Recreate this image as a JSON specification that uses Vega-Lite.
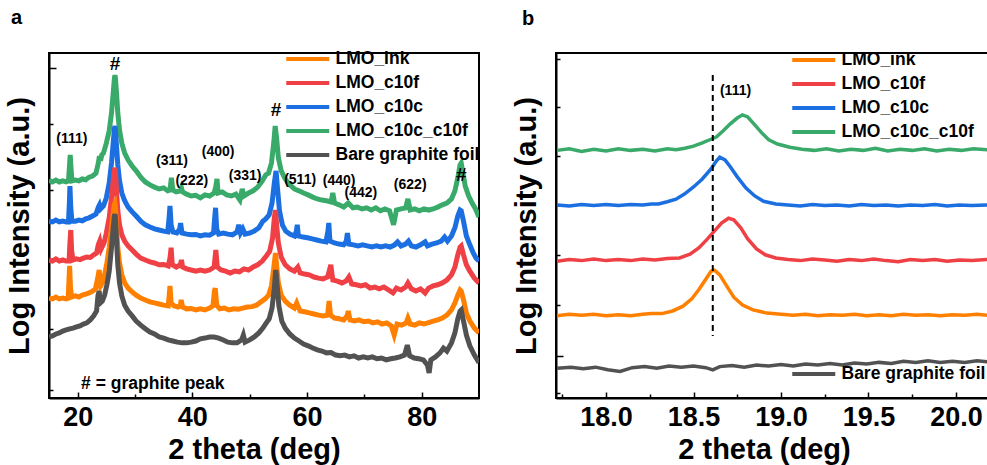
{
"$schema":"https://vega.github.io/schema/vega-lite/v6.json",
"padding":{"left":4,"top":7,"right":0,"bottom":0},
"config":{
 "font":"Liberation Sans",
 "view":{"stroke":"black","strokeWidth":2},
 "axis":{"grid":false,"domainColor":"black","domainWidth":2,"tickColor":"black","tickWidth":1.5,"labelFont":"Liberation Sans","labelFontWeight":"bold","labelFontSize":27,"labelColor":"black","titleFont":"Liberation Sans","titleFontWeight":"bold","titleFontSize":29,"titleColor":"black"},
 "legend":{"title":null,"orient":"none","padding":0,"symbolType":"M-2,0H2","symbolSize":462,"symbolStrokeWidth":4,"labelFont":"Liberation Sans","labelFontWeight":"bold","labelFontSize":17.5,"labelColor":"black","labelOffset":14.75,"rowPadding":2},
 "title":{"font":"Liberation Sans","fontWeight":"bold","fontSize":20,"color":"black","anchor":"start","frame":"group","baseline":"alphabetic"}
},
"resolve":{"scale":{"color":"independent"},"legend":{"color":"independent"}},
"spacing":30,
"datasets":{
"a":[
{"s":"cc","x":15.0,"y":4.97},{"s":"cc","x":15.6,"y":4.92},{"s":"cc","x":16.2,"y":4.97},{"s":"cc","x":16.8,"y":4.92},{"s":"cc","x":17.4,"y":4.95},{"s":"cc","x":18.0,"y":4.92},{"s":"cc","x":18.4,"y":4.95},{"s":"cc","x":18.6,"y":5.43},{"s":"cc","x":18.7,"y":5.65},{"s":"cc","x":18.8,"y":5.38},{"s":"cc","x":19.0,"y":4.95},{"s":"cc","x":19.6,"y":4.97},{"s":"cc","x":20.2,"y":4.95},{"s":"cc","x":20.8,"y":5.0},{"s":"cc","x":21.4,"y":4.98},{"s":"cc","x":22.0,"y":5.05},{"s":"cc","x":22.6,"y":5.08},{"s":"cc","x":23.2,"y":5.16},{"s":"cc","x":23.6,"y":5.43},{"s":"cc","x":23.8,"y":5.62},{"s":"cc","x":24.0,"y":5.49},{"s":"cc","x":24.2,"y":5.65},{"s":"cc","x":24.5,"y":5.7},{"s":"cc","x":25.0,"y":5.97},{"s":"cc","x":25.5,"y":6.3},{"s":"cc","x":25.9,"y":6.78},{"s":"cc","x":26.2,"y":7.32},{"s":"cc","x":26.4,"y":7.7},{"s":"cc","x":26.5,"y":7.81},{"s":"cc","x":26.6,"y":7.7},{"s":"cc","x":26.8,"y":7.27},{"s":"cc","x":27.0,"y":6.78},{"s":"cc","x":27.3,"y":6.32},{"s":"cc","x":27.7,"y":5.97},{"s":"cc","x":28.2,"y":5.7},{"s":"cc","x":28.8,"y":5.51},{"s":"cc","x":29.5,"y":5.35},{"s":"cc","x":30.2,"y":5.22},{"s":"cc","x":31.0,"y":5.05},{"s":"cc","x":31.8,"y":4.92},{"s":"cc","x":32.6,"y":4.84},{"s":"cc","x":33.4,"y":4.78},{"s":"cc","x":34.2,"y":4.73},{"s":"cc","x":35.0,"y":4.76},{"s":"cc","x":35.7,"y":4.68},{"s":"cc","x":36.1,"y":4.7},{"s":"cc","x":36.35,"y":5.03},{"s":"cc","x":36.6,"y":4.7},{"s":"cc","x":37.2,"y":4.65},{"s":"cc","x":37.9,"y":4.68},{"s":"cc","x":38.1,"y":4.76},{"s":"cc","x":38.3,"y":4.65},{"s":"cc","x":39.0,"y":4.59},{"s":"cc","x":39.8,"y":4.54},{"s":"cc","x":40.6,"y":4.56},{"s":"cc","x":41.4,"y":4.49},{"s":"cc","x":42.2,"y":4.57},{"s":"cc","x":43.0,"y":4.54},{"s":"cc","x":43.8,"y":4.62},{"s":"cc","x":44.1,"y":4.8},{"s":"cc","x":44.3,"y":5.0},{"s":"cc","x":44.5,"y":4.62},{"s":"cc","x":45.2,"y":4.65},{"s":"cc","x":46.0,"y":4.57},{"s":"cc","x":46.8,"y":4.54},{"s":"cc","x":47.6,"y":4.59},{"s":"cc","x":48.3,"y":4.43},{"s":"cc","x":48.7,"y":4.73},{"s":"cc","x":49.0,"y":4.54},{"s":"cc","x":49.8,"y":4.62},{"s":"cc","x":50.6,"y":4.68},{"s":"cc","x":51.4,"y":4.78},{"s":"cc","x":52.2,"y":4.95},{"s":"cc","x":52.8,"y":5.11},{"s":"cc","x":53.3,"y":5.16},{"s":"cc","x":53.8,"y":5.43},{"s":"cc","x":54.2,"y":5.97},{"s":"cc","x":54.45,"y":6.43},{"s":"cc","x":54.7,"y":6.11},{"s":"cc","x":55.0,"y":5.57},{"s":"cc","x":55.5,"y":5.22},{"s":"cc","x":56.2,"y":5.0},{"s":"cc","x":57.0,"y":4.84},{"s":"cc","x":57.8,"y":4.73},{"s":"cc","x":58.6,"y":4.68},{"s":"cc","x":59.4,"y":4.62},{"s":"cc","x":60.2,"y":4.57},{"s":"cc","x":61.0,"y":4.51},{"s":"cc","x":61.8,"y":4.46},{"s":"cc","x":62.6,"y":4.43},{"s":"cc","x":63.4,"y":4.41},{"s":"cc","x":64.2,"y":4.38},{"s":"cc","x":64.5,"y":4.62},{"s":"cc","x":64.8,"y":4.35},{"s":"cc","x":65.6,"y":4.3},{"s":"cc","x":66.4,"y":4.24},{"s":"cc","x":67.2,"y":4.35},{"s":"cc","x":68.0,"y":4.22},{"s":"cc","x":68.8,"y":4.24},{"s":"cc","x":69.6,"y":4.19},{"s":"cc","x":70.4,"y":4.22},{"s":"cc","x":71.2,"y":4.16},{"s":"cc","x":72.0,"y":4.22},{"s":"cc","x":72.8,"y":4.14},{"s":"cc","x":73.6,"y":4.19},{"s":"cc","x":74.4,"y":4.14},{"s":"cc","x":75.1,"y":3.76},{"s":"cc","x":75.6,"y":4.16},{"s":"cc","x":76.4,"y":4.19},{"s":"cc","x":77.2,"y":4.22},{"s":"cc","x":77.6,"y":4.46},{"s":"cc","x":78.0,"y":4.16},{"s":"cc","x":78.8,"y":4.19},{"s":"cc","x":79.6,"y":4.14},{"s":"cc","x":80.4,"y":4.19},{"s":"cc","x":81.2,"y":4.16},{"s":"cc","x":82.0,"y":4.19},{"s":"cc","x":82.8,"y":4.24},{"s":"cc","x":83.6,"y":4.3},{"s":"cc","x":84.4,"y":4.35},{"s":"cc","x":85.2,"y":4.46},{"s":"cc","x":85.8,"y":4.68},{"s":"cc","x":86.3,"y":5.03},{"s":"cc","x":86.7,"y":5.38},{"s":"cc","x":86.9,"y":5.43},{"s":"cc","x":87.2,"y":5.16},{"s":"cc","x":87.6,"y":4.81},{"s":"cc","x":88.2,"y":4.54},{"s":"cc","x":88.8,"y":4.35},{"s":"cc","x":89.4,"y":4.19},{"s":"cc","x":90.0,"y":3.97},
{"s":"c10c","x":15.0,"y":3.86},{"s":"c10c","x":15.6,"y":3.84},{"s":"c10c","x":16.2,"y":3.89},{"s":"c10c","x":16.8,"y":3.84},{"s":"c10c","x":17.4,"y":3.86},{"s":"c10c","x":18.0,"y":3.84},{"s":"c10c","x":18.4,"y":3.84},{"s":"c10c","x":18.55,"y":4.35},{"s":"c10c","x":18.65,"y":4.81},{"s":"c10c","x":18.8,"y":4.22},{"s":"c10c","x":19.0,"y":3.86},{"s":"c10c","x":19.6,"y":3.86},{"s":"c10c","x":20.2,"y":3.89},{"s":"c10c","x":20.8,"y":3.87},{"s":"c10c","x":21.4,"y":3.92},{"s":"c10c","x":22.0,"y":3.95},{"s":"c10c","x":22.6,"y":4.0},{"s":"c10c","x":23.2,"y":4.05},{"s":"c10c","x":23.6,"y":4.24},{"s":"c10c","x":23.8,"y":4.3},{"s":"c10c","x":24.0,"y":4.19},{"s":"c10c","x":24.5,"y":4.27},{"s":"c10c","x":25.0,"y":4.49},{"s":"c10c","x":25.5,"y":4.89},{"s":"c10c","x":25.9,"y":5.43},{"s":"c10c","x":26.2,"y":5.97},{"s":"c10c","x":26.4,"y":6.35},{"s":"c10c","x":26.5,"y":6.43},{"s":"c10c","x":26.6,"y":6.3},{"s":"c10c","x":26.8,"y":5.84},{"s":"c10c","x":27.0,"y":5.38},{"s":"c10c","x":27.3,"y":4.95},{"s":"c10c","x":27.7,"y":4.62},{"s":"c10c","x":28.2,"y":4.41},{"s":"c10c","x":28.8,"y":4.24},{"s":"c10c","x":29.5,"y":4.11},{"s":"c10c","x":30.2,"y":4.0},{"s":"c10c","x":31.0,"y":3.86},{"s":"c10c","x":31.8,"y":3.76},{"s":"c10c","x":32.6,"y":3.7},{"s":"c10c","x":33.4,"y":3.65},{"s":"c10c","x":34.2,"y":3.62},{"s":"c10c","x":35.0,"y":3.59},{"s":"c10c","x":35.7,"y":3.57},{"s":"c10c","x":35.95,"y":3.95},{"s":"c10c","x":36.1,"y":4.27},{"s":"c10c","x":36.3,"y":3.76},{"s":"c10c","x":36.6,"y":3.57},{"s":"c10c","x":37.3,"y":3.54},{"s":"c10c","x":37.8,"y":3.65},{"s":"c10c","x":37.95,"y":3.81},{"s":"c10c","x":38.2,"y":3.54},{"s":"c10c","x":39.0,"y":3.51},{"s":"c10c","x":39.8,"y":3.49},{"s":"c10c","x":40.6,"y":3.5},{"s":"c10c","x":41.4,"y":3.46},{"s":"c10c","x":42.2,"y":3.49},{"s":"c10c","x":43.0,"y":3.48},{"s":"c10c","x":43.7,"y":3.54},{"s":"c10c","x":43.9,"y":3.95},{"s":"c10c","x":44.05,"y":4.22},{"s":"c10c","x":44.25,"y":3.65},{"s":"c10c","x":44.6,"y":3.51},{"s":"c10c","x":45.4,"y":3.54},{"s":"c10c","x":46.2,"y":3.51},{"s":"c10c","x":47.0,"y":3.49},{"s":"c10c","x":47.8,"y":3.57},{"s":"c10c","x":48.1,"y":3.76},{"s":"c10c","x":48.4,"y":3.54},{"s":"c10c","x":48.8,"y":3.65},{"s":"c10c","x":49.2,"y":3.51},{"s":"c10c","x":50.0,"y":3.54},{"s":"c10c","x":50.8,"y":3.59},{"s":"c10c","x":51.6,"y":3.68},{"s":"c10c","x":52.3,"y":3.86},{"s":"c10c","x":52.8,"y":3.92},{"s":"c10c","x":53.4,"y":4.03},{"s":"c10c","x":53.9,"y":4.35},{"s":"c10c","x":54.3,"y":4.89},{"s":"c10c","x":54.6,"y":5.22},{"s":"c10c","x":54.85,"y":4.76},{"s":"c10c","x":55.2,"y":4.14},{"s":"c10c","x":55.7,"y":3.76},{"s":"c10c","x":56.3,"y":3.59},{"s":"c10c","x":57.0,"y":3.51},{"s":"c10c","x":57.8,"y":3.46},{"s":"c10c","x":58.15,"y":3.59},{"s":"c10c","x":58.3,"y":3.76},{"s":"c10c","x":58.5,"y":3.46},{"s":"c10c","x":59.3,"y":3.43},{"s":"c10c","x":60.1,"y":3.41},{"s":"c10c","x":60.9,"y":3.38},{"s":"c10c","x":61.7,"y":3.35},{"s":"c10c","x":62.5,"y":3.32},{"s":"c10c","x":63.3,"y":3.3},{"s":"c10c","x":63.65,"y":3.59},{"s":"c10c","x":63.8,"y":3.81},{"s":"c10c","x":64.0,"y":3.32},{"s":"c10c","x":64.8,"y":3.27},{"s":"c10c","x":65.6,"y":3.24},{"s":"c10c","x":66.4,"y":3.22},{"s":"c10c","x":66.85,"y":3.32},{"s":"c10c","x":67.05,"y":3.54},{"s":"c10c","x":67.3,"y":3.24},{"s":"c10c","x":68.1,"y":3.22},{"s":"c10c","x":68.9,"y":3.19},{"s":"c10c","x":69.7,"y":3.22},{"s":"c10c","x":70.5,"y":3.19},{"s":"c10c","x":71.3,"y":3.16},{"s":"c10c","x":72.1,"y":3.19},{"s":"c10c","x":72.9,"y":3.16},{"s":"c10c","x":73.7,"y":3.19},{"s":"c10c","x":74.5,"y":3.16},{"s":"c10c","x":75.3,"y":3.22},{"s":"c10c","x":75.8,"y":3.3},{"s":"c10c","x":76.4,"y":3.19},{"s":"c10c","x":77.2,"y":3.24},{"s":"c10c","x":77.7,"y":3.32},{"s":"c10c","x":78.2,"y":3.19},{"s":"c10c","x":79.0,"y":3.16},{"s":"c10c","x":79.8,"y":3.22},{"s":"c10c","x":80.6,"y":3.3},{"s":"c10c","x":81.0,"y":3.19},{"s":"c10c","x":81.8,"y":3.24},{"s":"c10c","x":82.6,"y":3.27},{"s":"c10c","x":83.4,"y":3.32},{"s":"c10c","x":84.0,"y":3.43},{"s":"c10c","x":84.5,"y":3.32},{"s":"c10c","x":85.2,"y":3.46},{"s":"c10c","x":85.8,"y":3.68},{"s":"c10c","x":86.3,"y":4.0},{"s":"c10c","x":86.7,"y":4.16},{"s":"c10c","x":86.9,"y":4.14},{"s":"c10c","x":87.3,"y":3.86},{"s":"c10c","x":87.8,"y":3.46},{"s":"c10c","x":88.4,"y":3.22},{"s":"c10c","x":89.0,"y":3.0},{"s":"c10c","x":89.5,"y":2.86},{"s":"c10c","x":90.0,"y":2.78},
{"s":"c10f","x":15.0,"y":2.81},{"s":"c10f","x":15.6,"y":2.78},{"s":"c10f","x":16.2,"y":2.84},{"s":"c10f","x":16.8,"y":2.78},{"s":"c10f","x":17.4,"y":2.81},{"s":"c10f","x":18.0,"y":2.78},{"s":"c10f","x":18.5,"y":2.78},{"s":"c10f","x":18.65,"y":3.27},{"s":"c10f","x":18.8,"y":3.62},{"s":"c10f","x":18.95,"y":3.05},{"s":"c10f","x":19.2,"y":2.81},{"s":"c10f","x":19.8,"y":2.84},{"s":"c10f","x":20.4,"y":2.82},{"s":"c10f","x":21.0,"y":2.86},{"s":"c10f","x":21.6,"y":2.89},{"s":"c10f","x":22.2,"y":2.88},{"s":"c10f","x":22.8,"y":2.95},{"s":"c10f","x":23.3,"y":3.0},{"s":"c10f","x":23.6,"y":3.22},{"s":"c10f","x":23.85,"y":3.32},{"s":"c10f","x":24.1,"y":3.11},{"s":"c10f","x":24.6,"y":3.27},{"s":"c10f","x":25.0,"y":3.54},{"s":"c10f","x":25.5,"y":3.95},{"s":"c10f","x":25.9,"y":4.49},{"s":"c10f","x":26.2,"y":4.95},{"s":"c10f","x":26.4,"y":5.24},{"s":"c10f","x":26.5,"y":5.3},{"s":"c10f","x":26.6,"y":5.16},{"s":"c10f","x":26.8,"y":4.62},{"s":"c10f","x":27.0,"y":4.14},{"s":"c10f","x":27.3,"y":3.76},{"s":"c10f","x":27.7,"y":3.49},{"s":"c10f","x":28.2,"y":3.32},{"s":"c10f","x":28.8,"y":3.19},{"s":"c10f","x":29.5,"y":3.08},{"s":"c10f","x":30.2,"y":2.97},{"s":"c10f","x":31.0,"y":2.86},{"s":"c10f","x":31.8,"y":2.81},{"s":"c10f","x":32.6,"y":2.76},{"s":"c10f","x":33.4,"y":2.73},{"s":"c10f","x":34.2,"y":2.68},{"s":"c10f","x":35.0,"y":2.69},{"s":"c10f","x":35.8,"y":2.65},{"s":"c10f","x":36.1,"y":2.86},{"s":"c10f","x":36.3,"y":3.14},{"s":"c10f","x":36.5,"y":2.68},{"s":"c10f","x":37.2,"y":2.62},{"s":"c10f","x":37.9,"y":2.68},{"s":"c10f","x":38.1,"y":2.81},{"s":"c10f","x":38.3,"y":2.62},{"s":"c10f","x":39.0,"y":2.57},{"s":"c10f","x":39.8,"y":2.54},{"s":"c10f","x":40.6,"y":2.51},{"s":"c10f","x":41.4,"y":2.54},{"s":"c10f","x":42.2,"y":2.51},{"s":"c10f","x":43.0,"y":2.54},{"s":"c10f","x":43.8,"y":2.62},{"s":"c10f","x":44.1,"y":3.08},{"s":"c10f","x":44.35,"y":2.62},{"s":"c10f","x":45.0,"y":2.54},{"s":"c10f","x":45.8,"y":2.51},{"s":"c10f","x":46.6,"y":2.46},{"s":"c10f","x":47.4,"y":2.51},{"s":"c10f","x":48.2,"y":2.49},{"s":"c10f","x":49.0,"y":2.57},{"s":"c10f","x":49.8,"y":2.54},{"s":"c10f","x":50.6,"y":2.62},{"s":"c10f","x":51.4,"y":2.68},{"s":"c10f","x":52.2,"y":2.78},{"s":"c10f","x":52.9,"y":2.92},{"s":"c10f","x":53.5,"y":3.05},{"s":"c10f","x":54.0,"y":3.41},{"s":"c10f","x":54.3,"y":3.95},{"s":"c10f","x":54.5,"y":4.16},{"s":"c10f","x":54.7,"y":3.76},{"s":"c10f","x":55.0,"y":3.27},{"s":"c10f","x":55.5,"y":2.89},{"s":"c10f","x":56.2,"y":2.68},{"s":"c10f","x":57.0,"y":2.57},{"s":"c10f","x":57.8,"y":2.51},{"s":"c10f","x":58.4,"y":2.62},{"s":"c10f","x":58.8,"y":2.46},{"s":"c10f","x":59.6,"y":2.43},{"s":"c10f","x":60.4,"y":2.41},{"s":"c10f","x":61.2,"y":2.35},{"s":"c10f","x":62.0,"y":2.32},{"s":"c10f","x":62.8,"y":2.3},{"s":"c10f","x":63.6,"y":2.35},{"s":"c10f","x":64.15,"y":2.68},{"s":"c10f","x":64.5,"y":2.27},{"s":"c10f","x":65.3,"y":2.24},{"s":"c10f","x":66.1,"y":2.19},{"s":"c10f","x":66.8,"y":2.24},{"s":"c10f","x":67.3,"y":2.35},{"s":"c10f","x":67.8,"y":2.16},{"s":"c10f","x":68.6,"y":2.14},{"s":"c10f","x":69.4,"y":2.11},{"s":"c10f","x":70.2,"y":2.14},{"s":"c10f","x":71.0,"y":2.05},{"s":"c10f","x":71.8,"y":2.08},{"s":"c10f","x":72.6,"y":2.03},{"s":"c10f","x":73.4,"y":2.08},{"s":"c10f","x":74.2,"y":2.0},{"s":"c10f","x":75.0,"y":1.92},{"s":"c10f","x":75.6,"y":2.05},{"s":"c10f","x":76.4,"y":2.0},{"s":"c10f","x":77.2,"y":2.08},{"s":"c10f","x":77.6,"y":2.19},{"s":"c10f","x":78.2,"y":2.03},{"s":"c10f","x":79.0,"y":1.97},{"s":"c10f","x":79.8,"y":2.03},{"s":"c10f","x":80.6,"y":1.92},{"s":"c10f","x":81.2,"y":2.05},{"s":"c10f","x":82.0,"y":2.11},{"s":"c10f","x":82.8,"y":2.14},{"s":"c10f","x":83.6,"y":2.19},{"s":"c10f","x":84.4,"y":2.27},{"s":"c10f","x":85.2,"y":2.41},{"s":"c10f","x":85.8,"y":2.62},{"s":"c10f","x":86.3,"y":2.95},{"s":"c10f","x":86.7,"y":3.16},{"s":"c10f","x":86.9,"y":3.19},{"s":"c10f","x":87.3,"y":2.95},{"s":"c10f","x":87.8,"y":2.68},{"s":"c10f","x":88.4,"y":2.51},{"s":"c10f","x":89.2,"y":2.32},{"s":"c10f","x":90.0,"y":2.19},
{"s":"ink","x":15.0,"y":1.78},{"s":"ink","x":15.6,"y":1.76},{"s":"ink","x":16.2,"y":1.81},{"s":"ink","x":16.8,"y":1.76},{"s":"ink","x":17.4,"y":1.78},{"s":"ink","x":18.0,"y":1.76},{"s":"ink","x":18.35,"y":1.78},{"s":"ink","x":18.5,"y":2.32},{"s":"ink","x":18.6,"y":2.65},{"s":"ink","x":18.75,"y":2.05},{"s":"ink","x":18.95,"y":1.81},{"s":"ink","x":19.6,"y":1.84},{"s":"ink","x":20.2,"y":1.81},{"s":"ink","x":20.8,"y":1.86},{"s":"ink","x":21.4,"y":1.89},{"s":"ink","x":22.0,"y":1.92},{"s":"ink","x":22.6,"y":1.97},{"s":"ink","x":23.1,"y":2.03},{"s":"ink","x":23.5,"y":2.32},{"s":"ink","x":23.75,"y":2.54},{"s":"ink","x":24.0,"y":2.11},{"s":"ink","x":24.3,"y":2.19},{"s":"ink","x":24.7,"y":2.41},{"s":"ink","x":25.1,"y":2.73},{"s":"ink","x":25.5,"y":3.14},{"s":"ink","x":25.9,"y":3.68},{"s":"ink","x":26.2,"y":4.08},{"s":"ink","x":26.4,"y":4.32},{"s":"ink","x":26.5,"y":4.35},{"s":"ink","x":26.6,"y":4.22},{"s":"ink","x":26.8,"y":3.68},{"s":"ink","x":27.0,"y":3.14},{"s":"ink","x":27.3,"y":2.73},{"s":"ink","x":27.7,"y":2.41},{"s":"ink","x":28.2,"y":2.19},{"s":"ink","x":28.8,"y":2.05},{"s":"ink","x":29.5,"y":1.95},{"s":"ink","x":30.2,"y":1.86},{"s":"ink","x":31.0,"y":1.78},{"s":"ink","x":31.8,"y":1.73},{"s":"ink","x":32.6,"y":1.68},{"s":"ink","x":33.4,"y":1.65},{"s":"ink","x":34.2,"y":1.62},{"s":"ink","x":35.0,"y":1.59},{"s":"ink","x":35.8,"y":1.57},{"s":"ink","x":36.0,"y":1.92},{"s":"ink","x":36.1,"y":2.11},{"s":"ink","x":36.3,"y":1.65},{"s":"ink","x":36.8,"y":1.57},{"s":"ink","x":37.5,"y":1.54},{"s":"ink","x":37.9,"y":1.57},{"s":"ink","x":38.05,"y":1.73},{"s":"ink","x":38.3,"y":1.54},{"s":"ink","x":39.0,"y":1.49},{"s":"ink","x":39.8,"y":1.5},{"s":"ink","x":40.6,"y":1.46},{"s":"ink","x":41.4,"y":1.49},{"s":"ink","x":42.2,"y":1.46},{"s":"ink","x":43.0,"y":1.51},{"s":"ink","x":43.6,"y":1.57},{"s":"ink","x":43.85,"y":1.97},{"s":"ink","x":44.0,"y":2.05},{"s":"ink","x":44.25,"y":1.59},{"s":"ink","x":44.8,"y":1.49},{"s":"ink","x":45.6,"y":1.51},{"s":"ink","x":46.4,"y":1.46},{"s":"ink","x":47.2,"y":1.49},{"s":"ink","x":48.0,"y":1.48},{"s":"ink","x":48.8,"y":1.51},{"s":"ink","x":49.6,"y":1.54},{"s":"ink","x":50.4,"y":1.55},{"s":"ink","x":51.2,"y":1.59},{"s":"ink","x":52.0,"y":1.68},{"s":"ink","x":52.7,"y":1.76},{"s":"ink","x":53.3,"y":1.86},{"s":"ink","x":53.8,"y":2.11},{"s":"ink","x":54.2,"y":2.59},{"s":"ink","x":54.5,"y":3.0},{"s":"ink","x":54.75,"y":2.59},{"s":"ink","x":55.0,"y":2.19},{"s":"ink","x":55.5,"y":1.86},{"s":"ink","x":56.2,"y":1.7},{"s":"ink","x":57.0,"y":1.59},{"s":"ink","x":57.8,"y":1.51},{"s":"ink","x":58.2,"y":1.65},{"s":"ink","x":58.4,"y":1.57},{"s":"ink","x":58.8,"y":1.43},{"s":"ink","x":59.6,"y":1.41},{"s":"ink","x":60.4,"y":1.38},{"s":"ink","x":61.2,"y":1.35},{"s":"ink","x":62.0,"y":1.32},{"s":"ink","x":62.8,"y":1.3},{"s":"ink","x":63.6,"y":1.32},{"s":"ink","x":63.85,"y":1.7},{"s":"ink","x":64.1,"y":1.32},{"s":"ink","x":64.8,"y":1.24},{"s":"ink","x":65.6,"y":1.22},{"s":"ink","x":66.4,"y":1.19},{"s":"ink","x":67.0,"y":1.3},{"s":"ink","x":67.2,"y":1.43},{"s":"ink","x":67.5,"y":1.19},{"s":"ink","x":68.3,"y":1.16},{"s":"ink","x":69.1,"y":1.19},{"s":"ink","x":69.9,"y":1.14},{"s":"ink","x":70.7,"y":1.16},{"s":"ink","x":71.5,"y":1.11},{"s":"ink","x":72.3,"y":1.14},{"s":"ink","x":73.1,"y":1.08},{"s":"ink","x":73.9,"y":1.11},{"s":"ink","x":74.7,"y":1.03},{"s":"ink","x":75.2,"y":0.78},{"s":"ink","x":75.7,"y":1.08},{"s":"ink","x":76.5,"y":1.05},{"s":"ink","x":77.3,"y":1.11},{"s":"ink","x":77.6,"y":1.24},{"s":"ink","x":78.0,"y":1.08},{"s":"ink","x":78.8,"y":1.05},{"s":"ink","x":79.6,"y":1.11},{"s":"ink","x":80.4,"y":1.08},{"s":"ink","x":81.2,"y":1.12},{"s":"ink","x":82.0,"y":1.16},{"s":"ink","x":82.8,"y":1.19},{"s":"ink","x":83.6,"y":1.24},{"s":"ink","x":84.4,"y":1.32},{"s":"ink","x":85.2,"y":1.46},{"s":"ink","x":85.8,"y":1.65},{"s":"ink","x":86.3,"y":1.86},{"s":"ink","x":86.7,"y":2.0},{"s":"ink","x":86.9,"y":1.97},{"s":"ink","x":87.3,"y":1.73},{"s":"ink","x":87.8,"y":1.38},{"s":"ink","x":88.4,"y":1.16},{"s":"ink","x":89.2,"y":0.97},{"s":"ink","x":90.0,"y":0.84},
{"s":"bare","x":15.0,"y":0.73},{"s":"bare","x":15.6,"y":0.76},{"s":"bare","x":16.2,"y":0.81},{"s":"bare","x":16.8,"y":0.84},{"s":"bare","x":17.4,"y":0.89},{"s":"bare","x":18.0,"y":0.92},{"s":"bare","x":18.6,"y":0.95},{"s":"bare","x":19.2,"y":0.97},{"s":"bare","x":19.8,"y":1.0},{"s":"bare","x":20.4,"y":1.03},{"s":"bare","x":21.0,"y":1.08},{"s":"bare","x":21.6,"y":1.11},{"s":"bare","x":22.2,"y":1.19},{"s":"bare","x":22.8,"y":1.3},{"s":"bare","x":23.3,"y":1.43},{"s":"bare","x":23.55,"y":1.86},{"s":"bare","x":23.75,"y":1.97},{"s":"bare","x":23.95,"y":1.65},{"s":"bare","x":24.3,"y":1.7},{"s":"bare","x":24.7,"y":1.86},{"s":"bare","x":25.1,"y":2.14},{"s":"bare","x":25.5,"y":2.51},{"s":"bare","x":25.9,"y":3.14},{"s":"bare","x":26.2,"y":3.68},{"s":"bare","x":26.4,"y":4.0},{"s":"bare","x":26.5,"y":4.05},{"s":"bare","x":26.6,"y":3.92},{"s":"bare","x":26.8,"y":3.27},{"s":"bare","x":27.0,"y":2.68},{"s":"bare","x":27.3,"y":2.19},{"s":"bare","x":27.7,"y":1.84},{"s":"bare","x":28.2,"y":1.59},{"s":"bare","x":28.8,"y":1.43},{"s":"bare","x":29.5,"y":1.3},{"s":"bare","x":30.2,"y":1.16},{"s":"bare","x":31.0,"y":1.05},{"s":"bare","x":31.8,"y":0.95},{"s":"bare","x":32.6,"y":0.86},{"s":"bare","x":33.4,"y":0.81},{"s":"bare","x":34.2,"y":0.73},{"s":"bare","x":35.0,"y":0.7},{"s":"bare","x":35.8,"y":0.65},{"s":"bare","x":36.6,"y":0.62},{"s":"bare","x":37.4,"y":0.59},{"s":"bare","x":38.2,"y":0.57},{"s":"bare","x":39.0,"y":0.57},{"s":"bare","x":39.8,"y":0.59},{"s":"bare","x":40.6,"y":0.62},{"s":"bare","x":41.4,"y":0.68},{"s":"bare","x":42.2,"y":0.7},{"s":"bare","x":43.0,"y":0.73},{"s":"bare","x":43.8,"y":0.73},{"s":"bare","x":44.6,"y":0.7},{"s":"bare","x":45.4,"y":0.65},{"s":"bare","x":46.2,"y":0.59},{"s":"bare","x":47.0,"y":0.57},{"s":"bare","x":47.8,"y":0.57},{"s":"bare","x":48.6,"y":0.65},{"s":"bare","x":48.9,"y":0.78},{"s":"bare","x":49.2,"y":0.59},{"s":"bare","x":50.0,"y":0.65},{"s":"bare","x":50.8,"y":0.73},{"s":"bare","x":51.6,"y":0.84},{"s":"bare","x":52.3,"y":0.97},{"s":"bare","x":52.9,"y":1.11},{"s":"bare","x":53.4,"y":1.22},{"s":"bare","x":53.9,"y":1.51},{"s":"bare","x":54.3,"y":2.05},{"s":"bare","x":54.55,"y":2.54},{"s":"bare","x":54.8,"y":2.11},{"s":"bare","x":55.1,"y":1.57},{"s":"bare","x":55.6,"y":1.16},{"s":"bare","x":56.2,"y":0.97},{"s":"bare","x":57.0,"y":0.81},{"s":"bare","x":57.8,"y":0.7},{"s":"bare","x":58.6,"y":0.62},{"s":"bare","x":59.4,"y":0.54},{"s":"bare","x":60.2,"y":0.49},{"s":"bare","x":61.0,"y":0.43},{"s":"bare","x":61.8,"y":0.38},{"s":"bare","x":62.6,"y":0.35},{"s":"bare","x":63.4,"y":0.3},{"s":"bare","x":64.2,"y":0.31},{"s":"bare","x":65.0,"y":0.24},{"s":"bare","x":65.8,"y":0.22},{"s":"bare","x":66.6,"y":0.24},{"s":"bare","x":67.4,"y":0.19},{"s":"bare","x":68.2,"y":0.22},{"s":"bare","x":69.0,"y":0.16},{"s":"bare","x":69.8,"y":0.19},{"s":"bare","x":70.6,"y":0.16},{"s":"bare","x":71.4,"y":0.19},{"s":"bare","x":72.2,"y":0.14},{"s":"bare","x":73.0,"y":0.16},{"s":"bare","x":73.8,"y":0.11},{"s":"bare","x":74.6,"y":0.14},{"s":"bare","x":75.4,"y":0.16},{"s":"bare","x":76.2,"y":0.19},{"s":"bare","x":77.0,"y":0.24},{"s":"bare","x":77.5,"y":0.51},{"s":"bare","x":77.9,"y":0.22},{"s":"bare","x":78.7,"y":0.16},{"s":"bare","x":79.5,"y":0.14},{"s":"bare","x":80.3,"y":0.11},{"s":"bare","x":81.0,"y":-0.03},{"s":"bare","x":81.3,"y":-0.24},{"s":"bare","x":81.6,"y":0.11},{"s":"bare","x":82.4,"y":0.19},{"s":"bare","x":83.2,"y":0.3},{"s":"bare","x":83.8,"y":0.43},{"s":"bare","x":84.4,"y":0.35},{"s":"bare","x":85.2,"y":0.57},{"s":"bare","x":85.8,"y":0.84},{"s":"bare","x":86.3,"y":1.22},{"s":"bare","x":86.7,"y":1.43},{"s":"bare","x":86.9,"y":1.46},{"s":"bare","x":87.3,"y":1.16},{"s":"bare","x":87.8,"y":0.78},{"s":"bare","x":88.4,"y":0.49},{"s":"bare","x":89.2,"y":0.24},{"s":"bare","x":90.0,"y":0.03}
],
"ann":[
{"k":"hash","x":26.5,"y":8.11,"t":"#"},{"k":"hash","x":54.6,"y":6.86,"t":"#"},{"k":"hash","x":86.9,"y":5.11,"t":"#"},
{"k":"hkl","x":19.0,"y":6.08,"t":"(111)"},{"k":"hkl","x":36.46,"y":5.49,"t":"(311)"},{"k":"hkl","x":39.9,"y":4.95,"t":"(222)"},{"k":"hkl","x":44.5,"y":5.73,"t":"(400)"},{"k":"hkl","x":49.2,"y":5.08,"t":"(331)"},{"k":"hkl","x":58.8,"y":4.97,"t":"(511)"},{"k":"hkl","x":65.6,"y":4.95,"t":"(440)"},{"k":"hkl","x":69.4,"y":4.62,"t":"(442)"},{"k":"hkl","x":78.0,"y":4.84,"t":"(622)"},
{"k":"note","x":20.6,"y":-0.54,"t":"# = graphite peak"}
],
"annb":[
{"k":"line","x":18.61,"y":5.3,"y2":0.38,"t":""},
{"k":"hkl","x":18.74,"y":5.0,"y2":5.0,"t":"(111)"}
],
"b":[
{"s":"cc","x":17.72,"y":3.88},{"s":"cc","x":17.79,"y":3.91},{"s":"cc","x":17.86,"y":3.86},{"s":"cc","x":17.93,"y":3.9},{"s":"cc","x":18.0,"y":3.87},{"s":"cc","x":18.07,"y":3.91},{"s":"cc","x":18.14,"y":3.88},{"s":"cc","x":18.21,"y":3.9},{"s":"cc","x":18.28,"y":3.87},{"s":"cc","x":18.35,"y":3.91},{"s":"cc","x":18.4,"y":3.89},{"s":"cc","x":18.45,"y":3.92},{"s":"cc","x":18.5,"y":3.96},{"s":"cc","x":18.55,"y":4.02},{"s":"cc","x":18.6,"y":4.09},{"s":"cc","x":18.63,"y":4.13},{"s":"cc","x":18.67,"y":4.25},{"s":"cc","x":18.71,"y":4.38},{"s":"cc","x":18.75,"y":4.49},{"s":"cc","x":18.78,"y":4.55},{"s":"cc","x":18.81,"y":4.51},{"s":"cc","x":18.85,"y":4.36},{"s":"cc","x":18.89,"y":4.21},{"s":"cc","x":18.93,"y":4.08},{"s":"cc","x":18.98,"y":4.0},{"s":"cc","x":19.05,"y":3.94},{"s":"cc","x":19.12,"y":3.9},{"s":"cc","x":19.19,"y":3.88},{"s":"cc","x":19.26,"y":3.91},{"s":"cc","x":19.33,"y":3.87},{"s":"cc","x":19.4,"y":3.9},{"s":"cc","x":19.47,"y":3.88},{"s":"cc","x":19.54,"y":3.92},{"s":"cc","x":19.61,"y":3.87},{"s":"cc","x":19.68,"y":3.9},{"s":"cc","x":19.75,"y":3.88},{"s":"cc","x":19.82,"y":3.91},{"s":"cc","x":19.89,"y":3.87},{"s":"cc","x":19.96,"y":3.9},{"s":"cc","x":20.03,"y":3.88},{"s":"cc","x":20.1,"y":3.91},{"s":"cc","x":20.18,"y":3.89},
{"s":"c10c","x":17.72,"y":2.85},{"s":"c10c","x":17.79,"y":2.83},{"s":"c10c","x":17.86,"y":2.86},{"s":"c10c","x":17.93,"y":2.84},{"s":"c10c","x":18.0,"y":2.86},{"s":"c10c","x":18.07,"y":2.84},{"s":"c10c","x":18.14,"y":2.86},{"s":"c10c","x":18.21,"y":2.85},{"s":"c10c","x":18.26,"y":2.87},{"s":"c10c","x":18.3,"y":2.87},{"s":"c10c","x":18.35,"y":2.91},{"s":"c10c","x":18.4,"y":2.96},{"s":"c10c","x":18.45,"y":3.06},{"s":"c10c","x":18.5,"y":3.19},{"s":"c10c","x":18.55,"y":3.34},{"s":"c10c","x":18.6,"y":3.53},{"s":"c10c","x":18.63,"y":3.68},{"s":"c10c","x":18.65,"y":3.75},{"s":"c10c","x":18.68,"y":3.7},{"s":"c10c","x":18.71,"y":3.57},{"s":"c10c","x":18.75,"y":3.38},{"s":"c10c","x":18.8,"y":3.17},{"s":"c10c","x":18.85,"y":3.02},{"s":"c10c","x":18.9,"y":2.92},{"s":"c10c","x":18.97,"y":2.87},{"s":"c10c","x":19.04,"y":2.85},{"s":"c10c","x":19.11,"y":2.83},{"s":"c10c","x":19.18,"y":2.86},{"s":"c10c","x":19.25,"y":2.84},{"s":"c10c","x":19.32,"y":2.85},{"s":"c10c","x":19.39,"y":2.83},{"s":"c10c","x":19.46,"y":2.86},{"s":"c10c","x":19.53,"y":2.84},{"s":"c10c","x":19.6,"y":2.85},{"s":"c10c","x":19.67,"y":2.83},{"s":"c10c","x":19.74,"y":2.85},{"s":"c10c","x":19.81,"y":2.84},{"s":"c10c","x":19.88,"y":2.86},{"s":"c10c","x":19.95,"y":2.83},{"s":"c10c","x":20.02,"y":2.85},{"s":"c10c","x":20.09,"y":2.84},{"s":"c10c","x":20.18,"y":2.85},
{"s":"c10f","x":17.72,"y":1.79},{"s":"c10f","x":17.79,"y":1.82},{"s":"c10f","x":17.86,"y":1.8},{"s":"c10f","x":17.93,"y":1.83},{"s":"c10f","x":18.0,"y":1.8},{"s":"c10f","x":18.07,"y":1.82},{"s":"c10f","x":18.14,"y":1.8},{"s":"c10f","x":18.21,"y":1.83},{"s":"c10f","x":18.28,"y":1.81},{"s":"c10f","x":18.35,"y":1.84},{"s":"c10f","x":18.42,"y":1.85},{"s":"c10f","x":18.48,"y":1.92},{"s":"c10f","x":18.53,"y":2.04},{"s":"c10f","x":18.58,"y":2.21},{"s":"c10f","x":18.62,"y":2.36},{"s":"c10f","x":18.66,"y":2.51},{"s":"c10f","x":18.7,"y":2.6},{"s":"c10f","x":18.73,"y":2.57},{"s":"c10f","x":18.77,"y":2.42},{"s":"c10f","x":18.81,"y":2.21},{"s":"c10f","x":18.86,"y":2.02},{"s":"c10f","x":18.91,"y":1.91},{"s":"c10f","x":18.97,"y":1.85},{"s":"c10f","x":19.04,"y":1.82},{"s":"c10f","x":19.11,"y":1.8},{"s":"c10f","x":19.18,"y":1.83},{"s":"c10f","x":19.25,"y":1.81},{"s":"c10f","x":19.32,"y":1.79},{"s":"c10f","x":19.39,"y":1.82},{"s":"c10f","x":19.46,"y":1.8},{"s":"c10f","x":19.53,"y":1.83},{"s":"c10f","x":19.6,"y":1.8},{"s":"c10f","x":19.67,"y":1.78},{"s":"c10f","x":19.74,"y":1.82},{"s":"c10f","x":19.81,"y":1.8},{"s":"c10f","x":19.88,"y":1.82},{"s":"c10f","x":19.95,"y":1.79},{"s":"c10f","x":20.02,"y":1.81},{"s":"c10f","x":20.09,"y":1.8},{"s":"c10f","x":20.18,"y":1.82},
{"s":"ink","x":17.72,"y":0.76},{"s":"ink","x":17.79,"y":0.79},{"s":"ink","x":17.86,"y":0.77},{"s":"ink","x":17.93,"y":0.79},{"s":"ink","x":18.0,"y":0.76},{"s":"ink","x":18.07,"y":0.78},{"s":"ink","x":18.14,"y":0.76},{"s":"ink","x":18.21,"y":0.79},{"s":"ink","x":18.26,"y":0.8},{"s":"ink","x":18.32,"y":0.8},{"s":"ink","x":18.38,"y":0.85},{"s":"ink","x":18.44,"y":0.94},{"s":"ink","x":18.49,"y":1.08},{"s":"ink","x":18.53,"y":1.25},{"s":"ink","x":18.57,"y":1.45},{"s":"ink","x":18.6,"y":1.6},{"s":"ink","x":18.62,"y":1.62},{"s":"ink","x":18.65,"y":1.53},{"s":"ink","x":18.69,"y":1.32},{"s":"ink","x":18.73,"y":1.11},{"s":"ink","x":18.78,"y":0.96},{"s":"ink","x":18.84,"y":0.87},{"s":"ink","x":18.92,"y":0.81},{"s":"ink","x":19.0,"y":0.79},{"s":"ink","x":19.07,"y":0.77},{"s":"ink","x":19.14,"y":0.79},{"s":"ink","x":19.21,"y":0.76},{"s":"ink","x":19.28,"y":0.78},{"s":"ink","x":19.35,"y":0.77},{"s":"ink","x":19.42,"y":0.79},{"s":"ink","x":19.49,"y":0.76},{"s":"ink","x":19.56,"y":0.78},{"s":"ink","x":19.63,"y":0.76},{"s":"ink","x":19.7,"y":0.79},{"s":"ink","x":19.77,"y":0.77},{"s":"ink","x":19.84,"y":0.78},{"s":"ink","x":19.91,"y":0.76},{"s":"ink","x":19.98,"y":0.78},{"s":"ink","x":20.05,"y":0.77},{"s":"ink","x":20.12,"y":0.79},{"s":"ink","x":20.18,"y":0.77}
],
"bb":[
{"s":"bare","x":17.72,"y":-0.23},{"s":"bare","x":17.8,"y":-0.21},{"s":"bare","x":17.87,"y":-0.24},{"s":"bare","x":17.94,"y":-0.21},{"s":"bare","x":18.01,"y":-0.26},{"s":"bare","x":18.08,"y":-0.29},{"s":"bare","x":18.15,"y":-0.22},{"s":"bare","x":18.22,"y":-0.2},{"s":"bare","x":18.29,"y":-0.23},{"s":"bare","x":18.36,"y":-0.19},{"s":"bare","x":18.43,"y":-0.21},{"s":"bare","x":18.5,"y":-0.19},{"s":"bare","x":18.57,"y":-0.22},{"s":"bare","x":18.61,"y":-0.26},{"s":"bare","x":18.65,"y":-0.2},{"s":"bare","x":18.72,"y":-0.18},{"s":"bare","x":18.79,"y":-0.21},{"s":"bare","x":18.86,"y":-0.17},{"s":"bare","x":18.93,"y":-0.19},{"s":"bare","x":19.0,"y":-0.16},{"s":"bare","x":19.07,"y":-0.19},{"s":"bare","x":19.14,"y":-0.15},{"s":"bare","x":19.21,"y":-0.17},{"s":"bare","x":19.28,"y":-0.14},{"s":"bare","x":19.35,"y":-0.17},{"s":"bare","x":19.42,"y":-0.13},{"s":"bare","x":19.49,"y":-0.15},{"s":"bare","x":19.56,"y":-0.12},{"s":"bare","x":19.63,"y":-0.14},{"s":"bare","x":19.7,"y":-0.1},{"s":"bare","x":19.77,"y":-0.12},{"s":"bare","x":19.84,"y":-0.09},{"s":"bare","x":19.91,"y":-0.12},{"s":"bare","x":19.98,"y":-0.1},{"s":"bare","x":20.05,"y":-0.12},{"s":"bare","x":20.12,"y":-0.09},{"s":"bare","x":20.18,"y":-0.11}
]
},
"hconcat":[
{
 "width":430,"height":345,
 "title":{"text":"a","dx":-38,"offset":18},
 "layer":[
  {
   "data":{"name":"a"},
   "mark":{"type":"line","strokeWidth":5,"clip":true},
   "encoding":{
    "x":{"field":"x","type":"quantitative","scale":{"domain":[15,90],"nice":false,"zero":false},
      "axis":{"title":"2 theta (deg)","values":[20,30,40,50,60,70,80],"labelExpr":"datum.value % 20 == 0 ? datum.label : ''","tickSize":{"condition":{"test":"datum.value % 20 == 0","value":-6},"value":-4},"labelPadding":12,"titleX":205,"titlePadding":5}},
    "y":{"field":"y","type":"quantitative","scale":{"domain":[-0.92,8.405],"nice":false,"zero":false},
      "axis":{"title":"Log Intensity (a.u.)","labels":false,"titlePadding":14,
       "values":[-0.699,-0.523,-0.398,-0.301,-0.222,-0.155,-0.097,-0.046,0,0.301,0.477,0.602,0.699,0.778,0.845,0.903,0.954,1,1.301,1.477,1.602,1.699,1.778,1.845,1.903,1.954,2,2.301,2.477,2.602,2.699,2.778,2.845,2.903,2.954,3,3.301,3.477,3.602,3.699,3.778,3.845,3.903,3.954,4,4.301,4.477,4.602,4.699,4.778,4.845,4.903,4.954,5,5.301,5.477,5.602,5.699,5.778,5.845,5.903,5.954,6,6.301,6.477,6.602,6.699,6.778,6.845,6.903,6.954,7,7.301,7.477,7.602,7.699,7.778,7.845,7.903,7.954,8,8.301],
       "tickSize":{"condition":{"test":"abs(datum.value - round(datum.value)) < 0.001","value":-7},"value":-4}}},
    "color":{"field":"s","type":"nominal","scale":{"domain":["ink","c10f","c10c","cc","bare"],"range":["#ff8000","#ee4045","#1c6fe0","#3aaa6a","#525252"]},
      "legend":{"legendX":245.75,"legendY":-7,"labelExpr":"datum.label == 'cc' ? 'LMO_c10c_c10f' : datum.label == 'bare' ? 'Bare graphite foil' : 'LMO_' + datum.label"}}
   }
  },
  {
   "data":{"name":"ann"},
   "transform":[{"filter":"datum.k == 'hash'"}],
   "mark":{"type":"text","fontSize":19,"fontWeight":"bold","color":"black","baseline":"middle"},
   "encoding":{"x":{"field":"x","type":"quantitative"},"y":{"field":"y","type":"quantitative"},"text":{"field":"t"}}
  },
  {
   "data":{"name":"ann"},
   "transform":[{"filter":"datum.k == 'hkl'"}],
   "mark":{"type":"text","fontSize":14,"fontWeight":"bold","color":"black","baseline":"middle"},
   "encoding":{"x":{"field":"x","type":"quantitative"},"y":{"field":"y","type":"quantitative"},"text":{"field":"t"}}
  },
  {
   "data":{"name":"ann"},
   "transform":[{"filter":"datum.k == 'note'"}],
   "mark":{"type":"text","fontSize":17.5,"fontWeight":"bold","color":"black","baseline":"middle","align":"left"},
   "encoding":{"x":{"field":"x","type":"quantitative"},"y":{"field":"y","type":"quantitative"},"text":{"field":"t"}}
  }
 ]
},
{
 "width":432,"height":345,
 "title":{"text":"b","dx":-34,"offset":18},
 "resolve":{"scale":{"color":"independent"},"legend":{"color":"independent"}},
 "layer":[
  {
   "data":{"name":"b"},
   "mark":{"type":"line","strokeWidth":3.5,"clip":true},
   "encoding":{
    "x":{"field":"x","type":"quantitative","scale":{"domain":[17.714,20.183],"nice":false,"zero":false},
      "axis":{"title":"2 theta (deg)","values":[17.75,18,18.25,18.5,18.75,19,19.25,19.5,19.75,20],"labelExpr":"abs(datum.value*2 - round(datum.value*2)) < 0.001 ? format(datum.value, '.1f') : ''","tickSize":{"condition":{"test":"abs(datum.value*2 - round(datum.value*2)) < 0.001","value":-6},"value":-4},"labelPadding":12,"titleX":208,"titlePadding":5}},
    "y":{"field":"y","type":"quantitative","scale":{"domain":[-0.792,5.717],"nice":false,"zero":false},
      "axis":{"title":"Log Intensity (a.u.)","labels":false,"titlePadding":14,
       "values":[-0.699,-0.523,-0.398,-0.301,-0.222,-0.155,-0.097,-0.046,0,0.301,0.477,0.602,0.699,0.778,0.845,0.903,0.954,1,1.301,1.477,1.602,1.699,1.778,1.845,1.903,1.954,2,2.301,2.477,2.602,2.699,2.778,2.845,2.903,2.954,3,3.301,3.477,3.602,3.699,3.778,3.845,3.903,3.954,4,4.301,4.477,4.602,4.699,4.778,4.845,4.903,4.954,5,5.301,5.477,5.602,5.699],
       "tickSize":{"condition":{"test":"abs(datum.value - round(datum.value)) < 0.001","value":-7},"value":-4}}},
    "color":{"field":"s","type":"nominal","scale":{"domain":["ink","c10f","c10c","cc"],"range":["#ff8000","#ee4045","#1c6fe0","#3aaa6a"]},
      "legend":{"legendX":244.75,"legendY":-6,"labelExpr":"datum.label == 'cc' ? 'LMO_c10c_c10f' : 'LMO_' + datum.label"}}
   }
  },
  {
   "data":{"name":"bb"},
   "mark":{"type":"line","strokeWidth":3.5,"clip":true},
   "encoding":{
    "x":{"field":"x","type":"quantitative"},
    "y":{"field":"y","type":"quantitative"},
    "color":{"field":"s","type":"nominal","scale":{"domain":["bare"],"range":["#525252"]},
      "legend":{"legendX":244.75,"legendY":308,"labelExpr":"'Bare graphite foil'"}}
   }
  },
  {
   "data":{"name":"annb"},
   "transform":[{"filter":"datum.k == 'line'"}],
   "mark":{"type":"rule","strokeDash":[6,4],"strokeWidth":2,"color":"black"},
   "encoding":{"x":{"field":"x","type":"quantitative"},"y":{"field":"y","type":"quantitative"},"y2":{"field":"y2"}}
  },
  {
   "data":{"name":"annb"},
   "transform":[{"filter":"datum.k == 'hkl'"}],
   "mark":{"type":"text","fontSize":14,"fontWeight":"bold","color":"black","baseline":"middle"},
   "encoding":{"x":{"field":"x","type":"quantitative"},"y":{"field":"y","type":"quantitative"},"text":{"field":"t"}}
  }
 ]
}
]
}
